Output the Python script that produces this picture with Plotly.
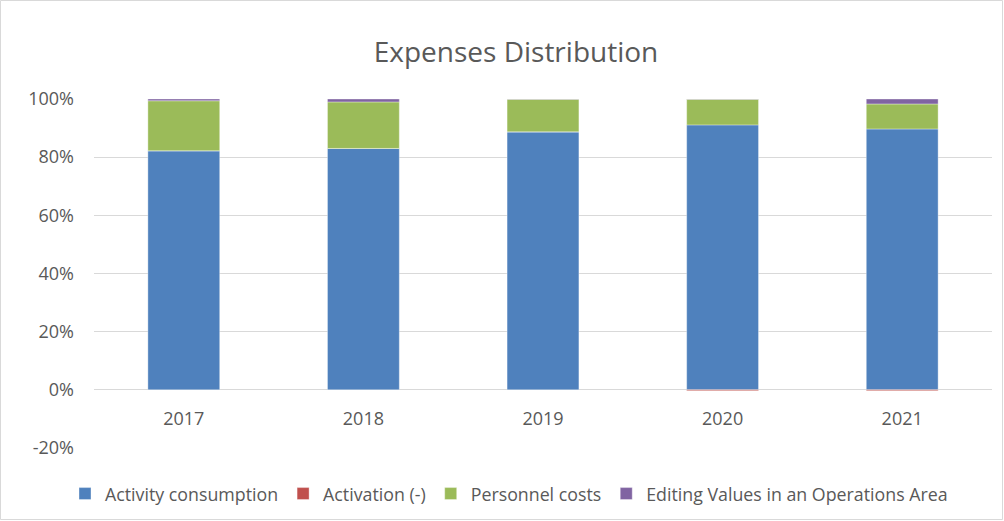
import plotly.graph_objects as go

years = ["2017", "2018", "2019", "2020", "2021"]
activity = [82.2, 83.0, 88.7, 91.1, 89.7]
activation = [0.0, 0.0, 0.0, -0.3, -0.3]
personnel = [17.2, 16.0, 11.2, 8.8, 8.6]
editing = [0.6, 1.0, 0.1, 0.1, 1.7]
y_ticks = [-20, 0, 20, 40, 60, 80, 100]
y_labels = [f"{v}%" for v in y_ticks]

series = [
    ("Activity consumption", activity, "#4F81BD"),
    ("Activation (-)", activation, "#C0504D"),
    ("Personnel costs", personnel, "#9BBB59"),
    ("Editing Values in an Operations Area", editing, "#8064A2"),
]

fig = go.Figure()
for name, vals, col in series:
    fig.add_trace(go.Bar(x=years, y=vals, name=name, marker_color=col,
                         marker_line_width=0.6, marker_line_color="rgba(255,255,255,0.6)",
                         width=0.4))

W, H = 1004, 521
L, R, T, B = 94, 12, 99, 73
ymin, ymax = -20, 100
zero_pos = (0 - ymin) / (ymax - ymin)

font = "'Open Sans', Lato, sans-serif"
fig.update_layout(
    width=W, height=H,
    margin=dict(l=L, r=R, t=T, b=B, autoexpand=False),
    barmode="relative",
    plot_bgcolor="white", paper_bgcolor="white",
    font=dict(family=font, size=18, color="#595959"),
    title=dict(text="Expenses Distribution", x=516 / W, xref="container",
               xanchor="center", y=1 - 52 / H, yanchor="middle",
               font=dict(size=28, color="#595959", family=font)),
    legend=dict(orientation="h", x=(509 - L) / (W - L - R), xanchor="center",
                y=-(494 - (H - B)) / (H - T - B), yanchor="middle",
                font=dict(size=17.8, color="#595959"), itemclick=False,
                tracegroupgap=0, itemwidth=30),
    showlegend=True,
    xaxis=dict(anchor="free", position=zero_pos, showgrid=False, showline=False,
               automargin=False, ticks="", tickfont=dict(size=18, color="#595959"),
               ticklabelstandoff=16),
    yaxis=dict(range=[ymin, ymax], tickvals=y_ticks, ticktext=y_labels,
               automargin=False,
               showgrid=True, gridcolor="#D9D9D9", gridwidth=1,
               zeroline=True, zerolinecolor="#D9D9D9", zerolinewidth=1,
               tickfont=dict(size=18, color="#595959"), ticklabelstandoff=19),
    shapes=[dict(type="rect", xref="paper", yref="paper",
                 x0=-(L - 0.5) / (W - L - R), x1=1 + (R - 1.5) / (W - L - R),
                 y0=-(B - 1.5) / (H - T - B), y1=1 + (T - 0.5) / (H - T - B),
                 line=dict(color="#D9D9D9", width=1), layer="below")],
)

fig.write_html("out.html", config={"displayModeBar": False},
               post_script="document.body.style.margin='0';document.body.style.overflow='hidden';")
